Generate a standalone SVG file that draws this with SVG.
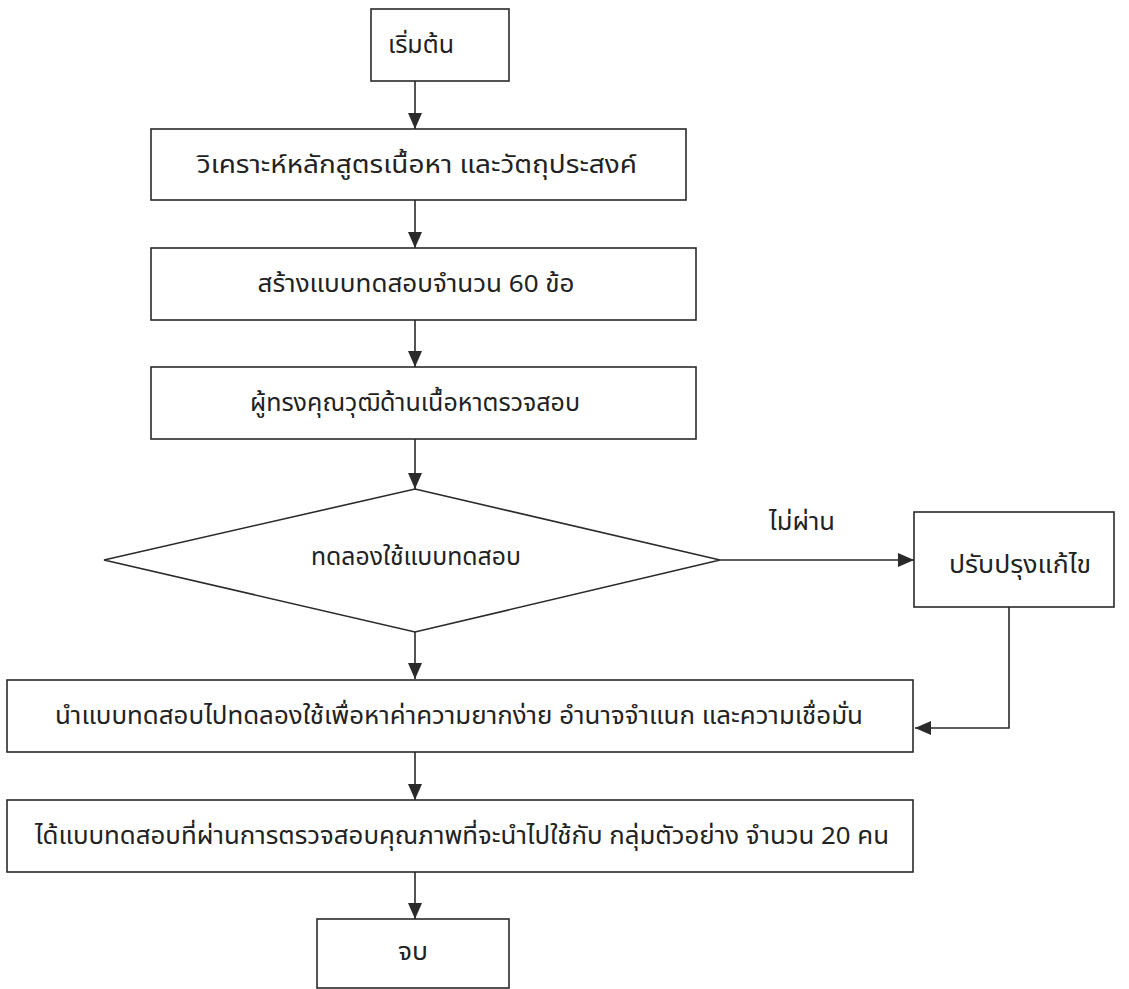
<svg xmlns="http://www.w3.org/2000/svg" width="1129" height="989" viewBox="0 0 1129 989">
  <style>
    .box { fill: #ffffff; stroke: #2a2a2a; stroke-width: 1.6; }
    .edge { fill: none; stroke: #2a2a2a; stroke-width: 1.6; }
    .lbl { font-family: "Noto Sans Thai", "DejaVu Sans", sans-serif; font-size: 24px; fill: #222222; text-anchor: middle; }
  </style>
  <defs>
    <marker id="arr" viewBox="0 0 16 16" refX="16" refY="8" markerWidth="16" markerHeight="16" markerUnits="userSpaceOnUse" orient="auto">
      <path d="M0,1 L16,8 L0,15 Z" fill="#2a2a2a"/>
    </marker>
  </defs>
  <rect width="1129" height="989" fill="#ffffff"/>

  <g id="connectors">
    <line class="edge" x1="415" y1="81" x2="415" y2="129" marker-end="url(#arr)"/>
    <line class="edge" x1="415" y1="200" x2="415" y2="248" marker-end="url(#arr)"/>
    <line class="edge" x1="415" y1="320" x2="415" y2="367" marker-end="url(#arr)"/>
    <line class="edge" x1="415" y1="439" x2="415" y2="489" marker-end="url(#arr)"/>
    <line class="edge" x1="720" y1="560" x2="914" y2="560" marker-end="url(#arr)"/>
    <line class="edge" x1="415" y1="632" x2="415" y2="679" marker-end="url(#arr)"/>
    <polyline class="edge" points="1009,607 1009,728 915,728" marker-end="url(#arr)"/>
    <line class="edge" x1="415" y1="752" x2="415" y2="800" marker-end="url(#arr)"/>
    <line class="edge" x1="415" y1="872" x2="415" y2="919" marker-end="url(#arr)"/>
    <text class="lbl" x="802" y="530" textLength="66" lengthAdjust="spacingAndGlyphs">ไม่ผ่าน</text>
  </g>

  <g id="start">
    <rect class="box" x="371" y="9" width="138" height="72"/>
    <text class="lbl" x="421" y="53" textLength="66" lengthAdjust="spacingAndGlyphs">เริ่มต้น</text>
  </g>
  <g id="analyze">
    <rect class="box" x="151" y="129" width="535" height="71"/>
    <text class="lbl" x="417" y="173" textLength="440" lengthAdjust="spacingAndGlyphs">วิเคราะห์หลักสูตรเนื้อหา และวัตถุประสงค์</text>
  </g>
  <g id="create">
    <rect class="box" x="151" y="248" width="545" height="72"/>
    <text class="lbl" x="416" y="292" textLength="317" lengthAdjust="spacingAndGlyphs">สร้างแบบทดสอบจำนวน 60 ข้อ</text>
  </g>
  <g id="experts">
    <rect class="box" x="151" y="367" width="545" height="72"/>
    <text class="lbl" x="415" y="411" textLength="330" lengthAdjust="spacingAndGlyphs">ผู้ทรงคุณวุฒิด้านเนื้อหาตรวจสอบ</text>
  </g>
  <g id="tryout">
    <polygon class="box" points="415,489 720,560 415,632 104,560"/>
    <text class="lbl" x="416" y="565" textLength="210" lengthAdjust="spacingAndGlyphs">ทดลองใช้แบบทดสอบ</text>
  </g>
  <g id="revise">
    <rect class="box" x="914" y="512" width="200" height="95"/>
    <text class="lbl" x="1020" y="573" textLength="142" lengthAdjust="spacingAndGlyphs">ปรับปรุงแก้ไข</text>
  </g>
  <g id="analysis">
    <rect class="box" x="7" y="680" width="906" height="72"/>
    <text class="lbl" x="459" y="724" textLength="808" lengthAdjust="spacingAndGlyphs">นำแบบทดสอบไปทดลองใช้เพื่อหาค่าความยากง่าย อำนาจจำแนก และความเชื่อมั่น</text>
  </g>
  <g id="result">
    <rect class="box" x="7" y="800" width="906" height="72"/>
    <text class="lbl" x="462" y="844" textLength="854" lengthAdjust="spacingAndGlyphs">ได้แบบทดสอบที่ผ่านการตรวจสอบคุณภาพที่จะนำไปใช้กับ กลุ่มตัวอย่าง จำนวน 20 คน</text>
  </g>
  <g id="end">
    <rect class="box" x="317" y="919" width="192" height="69"/>
    <text class="lbl" x="413" y="960" textLength="30" lengthAdjust="spacingAndGlyphs">จบ</text>
  </g>
</svg>
